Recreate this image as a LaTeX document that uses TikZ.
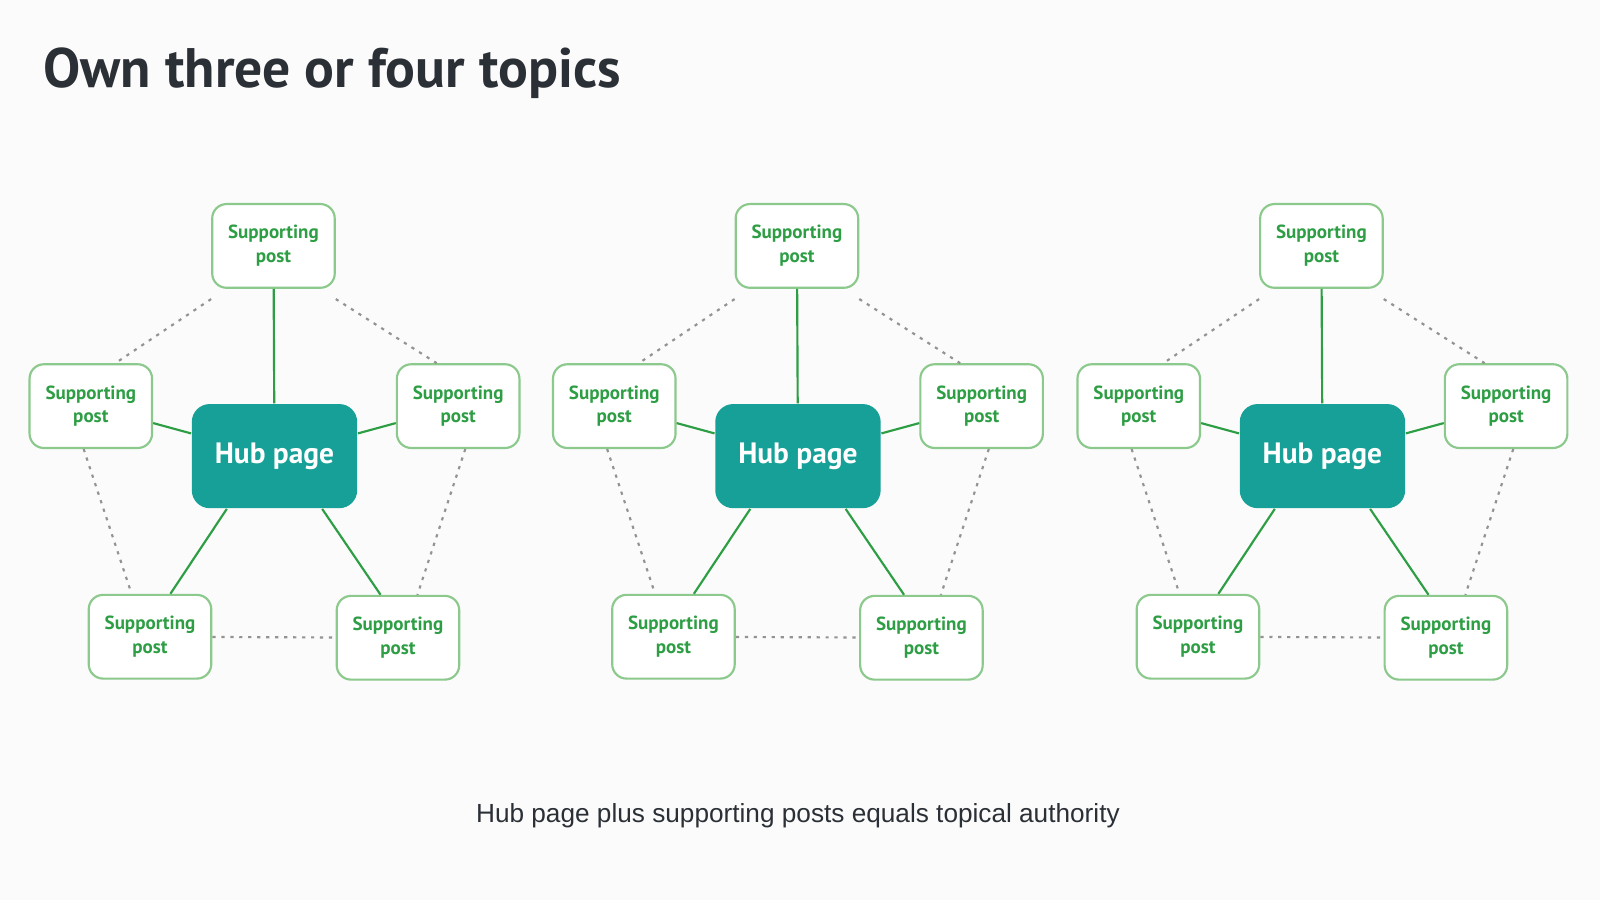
\documentclass[tikz,border=0pt]{standalone}
\usepackage{fontspec}
\setmainfont{PT Sans}
\newfontfamily\capfont{Liberation Sans}
\usetikzlibrary{positioning}
\definecolor{hubteal}{HTML}{17A097}
\definecolor{postgreen}{HTML}{2E9E45}
\definecolor{postline}{HTML}{8CC98C}
\definecolor{titlegray}{HTML}{2B2F36}
\tikzset{
  hub/.style={rectangle, rounded corners=5pt, fill=hubteal, text=white, font=\bfseries\fontsize{8.2}{9}\selectfont, minimum width=1.62cm, minimum height=1.02cm},
  post/.style={rectangle, rounded corners=4pt, draw=postline, line width=0.6pt, fill=white, text=postgreen, font=\bfseries\fontsize{5.3}{6.6}\selectfont, align=center, minimum width=1.2cm, minimum height=0.82cm},
  spoke/.style={postgreen, line width=0.6pt},
  ring/.style={gray!85, line width=0.6pt, dash pattern=on 0.9pt off 1.6pt}
}
\begin{document}
\begin{tikzpicture}[x=0.01cm, y=-0.01cm]
\fill[white!97!gray] (0,0) rectangle (1568,882);
\useasboundingbox (0,0) rectangle (1568,882);
\node[anchor=west, inner sep=0pt, text=titlegray, font=\bfseries\fontsize{15.5}{17}\selectfont] (title) at (42,72) {Own three or four topics};
\foreach \c/\dx in {a/0, b/513, c/1027} {
  \begin{scope}[xshift=\dx*0.01cm]
    \node[hub] (hub\c) at (269,447) {Hub page};
    \node[post] (top\c) at (268,241) {Supporting\\post};
    \node[post] (left\c) at (89,398) {Supporting\\post};
    \node[post] (right\c) at (449,398) {Supporting\\post};
    \node[post] (bl\c) at (147,624) {Supporting\\post};
    \node[post] (br\c) at (390,625) {Supporting\\post};
  \end{scope}
  % ring of dotted links
  \draw[ring] ([yshift=-0.1cm]top\c.south west) -- ([xshift=-0.37cm]left\c.north east);
  \draw[ring] ([yshift=-0.1cm]top\c.south east) -- ([xshift=0.4cm]right\c.north west);
  \draw[ring] ([xshift=-0.07cm]left\c.south) -- ([xshift=0.43cm]bl\c.north west);
  \draw[ring] ([xshift=0.07cm]right\c.south) -- ([xshift=-0.42cm]br\c.north east);
  \draw[ring] (bl\c) -- (br\c);
  % spokes
  \draw[spoke] (hub\c) -- (top\c);
  \draw[spoke] (hub\c) -- (left\c);
  \draw[spoke] (hub\c) -- (right\c);
  \draw[spoke] ([xshift=0.35cm]hub\c.south west) -- ([xshift=0.2cm]bl\c.north);
  \draw[spoke] ([xshift=-0.35cm]hub\c.south east) -- ([xshift=-0.17cm]br\c.north);
}
\node[text=titlegray, font=\capfont\fontsize{7.3}{9}\selectfont] (caption) at (782,799) {Hub page plus supporting posts equals topical authority};
\end{tikzpicture}
\end{document}
